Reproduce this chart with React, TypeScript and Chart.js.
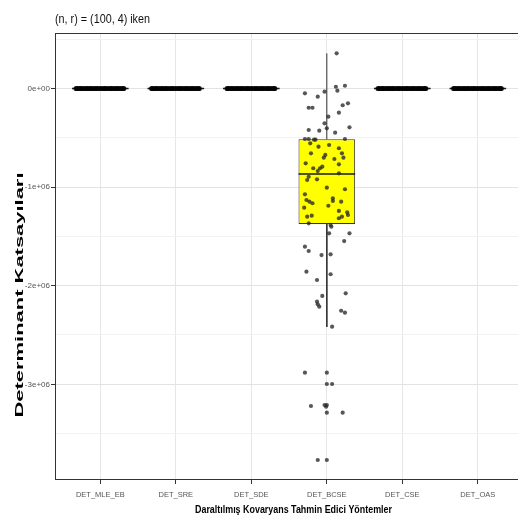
import React, { useEffect, useRef } from "react";
import { Chart, registerables } from "chart.js";

Chart.register(...registerables);

const categories = ["DET_MLE_EB", "DET_SRE", "DET_SDE", "DET_BCSE", "DET_CSE", "DET_OAS"];

// Boxplot summaries per category
const boxQ1 = [0, 0, 0, -1.374e6, 0, 0];
const boxMedian = [0, 0, 0, -0.867e6, 0, 0];
const boxQ3 = [0, 0, 0, -0.515e6, 0, 0];
const whiskerLow = [0, 0, 0, -2.419e6, 0, 0];
const whiskerHigh = [0, 0, 0, 0.357e6, 0, 0];

// Jittered observations of DET_BCSE (horizontal jitter in category units, value)
const bcseJitter = [
  0.13, -0.29, -0.12, -0.03, 0.12, 0.14, 0.24, -0.24, -0.19, 0.21,
  0.28, 0.16, 0.02, -0.03, 0.0, 0.3, -0.24, -0.1, 0.11, -0.29,
  -0.24, -0.17, -0.15, 0.24, -0.22, -0.11, 0.03, -0.21, 0.16, 0.2,
  -0.02, -0.04, 0.1, 0.22, -0.28, -0.06, -0.09, -0.18, 0.16, -0.12,
  0.16, -0.24, -0.26, -0.13, 0.0, 0.24, -0.29, -0.27, -0.23, -0.19,
  0.08, 0.08, 0.19, 0.02, -0.3, 0.16, 0.27, 0.28, -0.26, -0.2,
  0.16, 0.2, -0.24, 0.05, 0.06, 0.03, 0.3, 0.23, -0.29, -0.24,
  -0.07, 0.05, -0.27, 0.05, -0.13, 0.25, -0.06, -0.13, -0.12, -0.1,
  0.19, 0.24, 0.07, -0.29, 0.0, 0.0, 0.07, -0.21, -0.03, 0.0,
  -0.01, 0.0, 0.21, -0.12, 0.0,
];
const bcseValues = [
  0.357e6, -0.049e6, -0.083e6, -0.032e6, 0.018e6, -0.022e6, 0.028e6, -0.195e6, -0.195e6, -0.17e6,
  -0.15e6, -0.245e6, -0.286e6, -0.353e6, -0.404e6, -0.394e6, -0.421e6, -0.428e6, -0.448e6, -0.512e6,
  -0.512e6, -0.519e6, -0.519e6, -0.512e6, -0.556e6, -0.59e6, -0.573e6, -0.657e6, -0.606e6, -0.657e6,
  -0.674e6, -0.702e6, -0.715e6, -0.702e6, -0.759e6, -0.793e6, -0.809e6, -0.809e6, -0.769e6, -0.837e6,
  -0.86e6, -0.895e6, -0.928e6, -0.921e6, -1.006e6, -1.022e6, -1.073e6, -1.131e6, -1.148e6, -1.164e6,
  -1.114e6, -1.141e6, -1.148e6, -1.189e6, -1.209e6, -1.242e6, -1.256e6, -1.283e6, -1.3e6, -1.29e6,
  -1.316e6, -1.3e6, -1.367e6, -1.384e6, -1.402e6, -1.469e6, -1.469e6, -1.547e6, -1.604e6, -1.648e6,
  -1.689e6, -1.682e6, -1.858e6, -1.884e6, -1.942e6, -2.077e6, -2.104e6, -2.162e6, -2.189e6, -2.213e6,
  -2.254e6, -2.274e6, -2.416e6, -2.882e6, -2.882e6, -2.997e6, -2.997e6, -3.22e6, -3.21e6, -3.21e6,
  -3.227e6, -3.288e6, -3.288e6, -3.768e6, -3.768e6,
];

// Jitter of the near-zero observations in the five flat groups
const flatJitter = [
  -0.32, -0.3, -0.27, -0.25, -0.22, -0.19, -0.17, -0.14, -0.12, -0.09,
  -0.06, -0.04, -0.01, 0.02, 0.05, 0.07, 0.1, 0.13, 0.15, 0.18,
  0.21, 0.23, 0.26, 0.29, 0.31,
];

const yMajorTicks = [0, -1e6, -2e6, -3e6];
const yMajorLabels = ["0e+00", "-1e+06", "-2e+06", "-3e+06"];
const yMinorTicks = [0.5e6, -0.5e6, -1.5e6, -2.5e6, -3.5e6];

const chartTitle = "(n, r) = (100, 4) iken";
const xTitle = "Daraltılmış Kovaryans Tahmin Edici Yöntemler";
const yTitle = "Determinant Katsayıları";

const FONT = "'Liberation Sans', Arial, sans-serif";
const BOX_HALF = 0.375;

function drawFitted(
  ctx: CanvasRenderingContext2D,
  text: string,
  x: number,
  y: number,
  font: string,
  color: string,
  width: number,
  align: CanvasTextAlign,
  rotated: boolean
) {
  ctx.save();
  ctx.font = font;
  const w = ctx.measureText(text).width;
  ctx.translate(x, y);
  if (rotated) ctx.rotate(-Math.PI / 2);
  ctx.scale(width / w, 1);
  ctx.textAlign = align;
  ctx.textBaseline = "alphabetic";
  ctx.fillStyle = color;
  ctx.fillText(text, 0, 0);
  ctx.restore();
}

const textPlugin = {
  id: "ggText",
  afterDraw(chart: any) {
    const ctx = chart.ctx as CanvasRenderingContext2D;
    const a = chart.chartArea;
    drawFitted(ctx, chartTitle, a.left, 23, `13px ${FONT}`, "#111", 95, "left", false);
    drawFitted(ctx, xTitle, 293.5, 513, `bold 10.5px ${FONT}`, "#000", 197, "center", false);
    drawFitted(ctx, yTitle, 23, 295, `bold 11px ${FONT}`, "#000", 245, "center", true);
  },
};

const borderPlugin = {
  id: "panelBorder",
  afterDatasetsDraw(chart: any) {
    const ctx = chart.ctx as CanvasRenderingContext2D;
    const a = chart.chartArea;
    ctx.save();
    ctx.strokeStyle = "#333";
    ctx.lineWidth = 1;
    ctx.beginPath();
    ctx.moveTo(a.left + 0.5, a.top + 0.5);
    ctx.lineTo(a.right, a.top + 0.5);
    ctx.moveTo(a.left + 0.5, a.top);
    ctx.lineTo(a.left + 0.5, a.bottom);
    ctx.moveTo(a.left, a.bottom - 0.5);
    ctx.lineTo(a.right, a.bottom - 0.5);
    ctx.stroke();
    ctx.restore();
  },
};

const isMajor = (v: number) => yMajorTicks.indexOf(v) >= 0;

export default function App() {
  const ref = useRef<HTMLCanvasElement | null>(null);

  useEffect(() => {
    if (!ref.current) return;
    const bcseIndex = categories.indexOf("DET_BCSE");

    const bcsePoints = bcseJitter.map((o, k) => ({ x: bcseIndex + o, y: bcseValues[k] }));
    const flatPoints: { x: number; y: number }[] = [];
    categories.forEach((_, i) => {
      if (i === bcseIndex) return;
      flatJitter.forEach((o) => flatPoints.push({ x: i + o, y: boxMedian[i] }));
    });

    const medianSegs: { x: number; y: number | null }[] = [];
    const whiskerSegs: { x: number; y: number | null }[] = [];
    categories.forEach((_, i) => {
      medianSegs.push({ x: i - BOX_HALF, y: boxMedian[i] }, { x: i + BOX_HALF, y: boxMedian[i] }, { x: i, y: null });
      whiskerSegs.push(
        { x: i, y: boxQ3[i] },
        { x: i, y: whiskerHigh[i] },
        { x: i, y: null },
        { x: i, y: boxQ1[i] },
        { x: i, y: whiskerLow[i] },
        { x: i, y: null }
      );
    });

    const chart = new Chart(ref.current, {
      type: "scatter",
      data: {
        datasets: [
          {
            type: "scatter",
            label: "DET_BCSE",
            data: bcsePoints,
            pointRadius: 2.1,
            pointBackgroundColor: "rgba(40,40,40,0.78)",
            pointBorderWidth: 0,
            order: 0,
          } as any,
          {
            type: "scatter",
            label: "flat",
            data: flatPoints,
            pointRadius: 2.6,
            pointBackgroundColor: "rgba(0,0,0,0.9)",
            pointBorderWidth: 0,
            order: 0,
          } as any,
          {
            type: "line",
            label: "median",
            data: medianSegs,
            borderColor: "#1a1a1a",
            borderWidth: 1.6,
            pointRadius: 0,
            spanGaps: false,
            order: 1,
          } as any,
          {
            type: "line",
            label: "whisker",
            data: whiskerSegs,
            borderColor: "#333",
            borderWidth: 1,
            pointRadius: 0,
            spanGaps: false,
            order: 2,
          } as any,
          {
            type: "bar",
            label: "box",
            data: categories.map((_, i) => ({ x: i, y: [boxQ1[i], boxQ3[i]] })),
            backgroundColor: "#ffff00",
            borderColor: "#333",
            borderWidth: 1,
            borderSkipped: false,
            barPercentage: 0.75,
            categoryPercentage: 1,
            order: 3,
          } as any,
        ],
      },
      options: {
        responsive: false,
        animation: false,
        events: [],
        layout: { autoPadding: false, padding: { top: 33, left: 0, right: 0, bottom: 0 } },
        plugins: {
          legend: { display: false },
          tooltip: { enabled: false },
          title: { display: false },
        },
        scales: {
          x: {
            type: "linear",
            min: -0.6,
            max: 5.532,
            offset: false,
            afterBuildTicks: (s: any) => {
              s.ticks = categories.map((_, i) => ({ value: i }));
            },
            afterFit: (s: any) => {
              s.height = 35;
              s.paddingLeft = 0;
              s.paddingRight = 0;
            },
            grid: { offset: false, color: "#e6e6e6", lineWidth: 1, drawTicks: true, tickLength: 4, tickColor: "#333" },
            border: { display: false },
            ticks: {
              autoSkip: false,
              maxRotation: 0,
              padding: 6,
              color: "#555",
              font: { size: 7.5, family: FONT },
              callback: (v: any) => categories[v] ?? "",
            },
          },
          y: {
            type: "linear",
            min: -3.9706e6,
            max: 0.5629e6,
            afterBuildTicks: (s: any) => {
              s.ticks = [...yMinorTicks, ...yMajorTicks].sort((a, b) => a - b).map((v) => ({ value: v }));
            },
            afterFit: (s: any) => {
              s.width = 55;
              s.paddingTop = 0;
              s.paddingBottom = 0;
            },
            grid: {
              color: (c: any) => (c.tick && isMajor(c.tick.value) ? "#e3e3e3" : "#f2f2f2"),
              lineWidth: 1,
              drawTicks: true,
              tickLength: 4,
              tickColor: (c: any) => (c.tick && isMajor(c.tick.value) ? "#333" : "rgba(0,0,0,0)"),
            },
            border: { display: false },
            ticks: {
              autoSkip: false,
              padding: 1,
              color: "#555",
              font: { size: 8, family: FONT },
              callback: (v: any) => {
                const k = yMajorTicks.indexOf(v);
                return k >= 0 ? yMajorLabels[k] : "";
              },
            },
          },
        },
      } as any,
      plugins: [borderPlugin, textPlugin],
    });
    return () => chart.destroy();
  }, []);

  return (
    <div style={{ position: "fixed", left: 0, top: 0, width: 518, height: 515, background: "#fff" }}>
      <canvas ref={ref} width={518} height={515} style={{ display: "block", width: 518, height: 515 }} />
    </div>
  );
}
